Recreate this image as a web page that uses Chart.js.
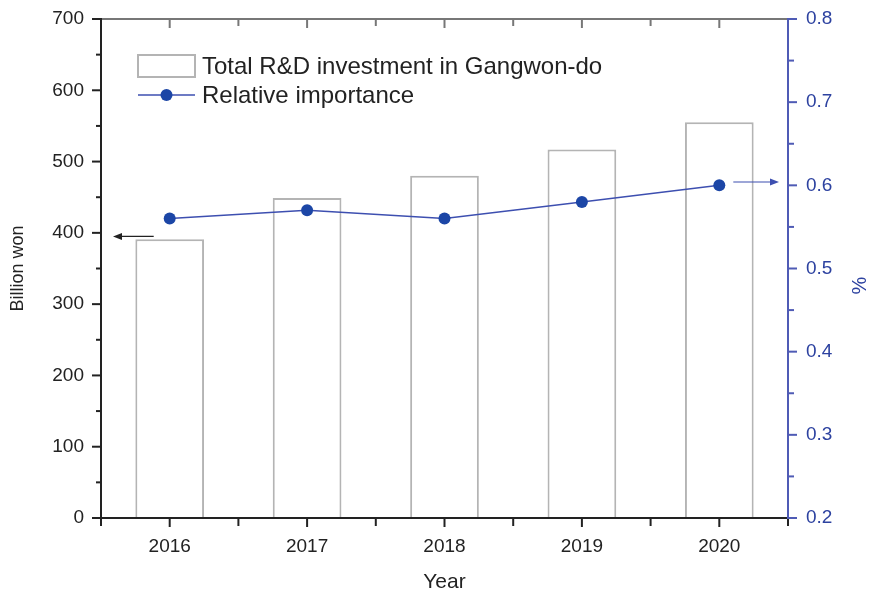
<!DOCTYPE html>
<html>
<head>
<meta charset="utf-8">
<script src="https://cdn.jsdelivr.net/npm/chart.js@4.4.0/dist/chart.umd.min.js"></script>
<style>
    html, body { margin: 0; padding: 0; background: #fff; }
    #wrap { width: 870px; height: 596px; }
</style>
</head>
<body>
<div id="wrap"><canvas id="chart"></canvas></div>
<script>
// Data
const years = ['2016', '2017', '2018', '2019', '2020'];
const investment = [391, 449, 480, 517, 555];        // billion won (left axis)
const importance = [0.56, 0.57, 0.56, 0.58, 0.60];   // % (right axis)
const leftTicks = [0, 100, 200, 300, 400, 500, 600, 700];
const rightTicks = [0.2, 0.3, 0.4, 0.5, 0.6, 0.7, 0.8];
const seriesNames = ['Total R&D investment in Gangwon-do', 'Relative importance'];

// Colours
const BLUE_AXIS = '#4f5bb5';
const BLUE_TEXT = '#2d42a0';
const BLUE_LINE = '#3d4fb0';
const BLUE_DOT = '#1c46a6';
const BAR_EDGE = '#b4b4b4';
const TEXT = '#222';
const FONT = 'Liberation Sans, Arial, sans-serif';

function line(ctx, x1, y1, x2, y2) {
    ctx.beginPath();
    ctx.moveTo(x1, y1);
    ctx.lineTo(x2, y2);
    ctx.stroke();
}

function arrow(ctx, x1, x2, y, color) {
    const dir = x2 > x1 ? 1 : -1;
    ctx.save();
    ctx.strokeStyle = color;
    ctx.fillStyle = color;
    ctx.lineWidth = 1.2;
    line(ctx, x1, y, x2 - dir * 6, y);
    ctx.beginPath();
    ctx.moveTo(x2, y);
    ctx.lineTo(x2 - dir * 9, y - 3.5);
    ctx.lineTo(x2 - dir * 9, y + 3.5);
    ctx.closePath();
    ctx.fill();
    ctx.restore();
}

// vertical axes: fixed width, no extra label padding at top/bottom
function fixWidth(w) {
    return function (s) {
        s.width = w;
        s.paddingTop = 0;
        s.paddingBottom = 0;
    };
}

// Axis frame, ticks, arrows and legend drawn like the original figure
const framePlugin = {
    id: 'frame',
    afterDatasetsDraw(chart) {
        const { ctx, chartArea: a, scales } = chart;
        const x = scales.x, y = scales.y, y1 = scales.y1;
        ctx.save();
        ctx.lineCap = 'butt';

        // top border (grey) with inward ticks
        ctx.strokeStyle = '#777';
        ctx.lineWidth = 2;
        line(ctx, a.left, a.top, a.right, a.top);
        for (let i = 0; i < years.length; i++) {
            const cx = x.getPixelForValue(i);
            line(ctx, cx, a.top, cx, a.top + 9);
            if (i > 0) {
                const bx = x.getPixelForValue(i - 0.5);
                line(ctx, bx, a.top, bx, a.top + 7);
            }
        }

        // bottom axis with outward ticks at centres and boundaries
        ctx.strokeStyle = TEXT;
        line(ctx, a.left - 1, a.bottom, a.right, a.bottom);
        for (let i = 0; i <= years.length; i++) {
            const bx = x.getPixelForValue(i - 0.5);
            line(ctx, bx, a.bottom, bx, a.bottom + 8);
            if (i < years.length) {
                const cx = x.getPixelForValue(i);
                line(ctx, cx, a.bottom, cx, a.bottom + 9);
            }
        }

        // left axis
        line(ctx, a.left, a.top - 1, a.left, a.bottom + 8);
        leftTicks.forEach((v, i) => {
            const py = y.getPixelForValue(v);
            line(ctx, a.left - 9, py, a.left, py);
            if (i < leftTicks.length - 1) {
                const my = y.getPixelForValue(v + 50);
                line(ctx, a.left - 5, my, a.left, my);
            }
        });

        // right axis (blue)
        ctx.strokeStyle = BLUE_AXIS;
        line(ctx, a.right, a.top - 1, a.right, a.bottom + 1);
        rightTicks.forEach((v, i) => {
            const py = y1.getPixelForValue(v);
            line(ctx, a.right, py, a.right + 9, py);
            if (i < rightTicks.length - 1) {
                const my = y1.getPixelForValue(v + 0.05);
                line(ctx, a.right, my, a.right + 6, my);
            }
        });
        ctx.restore();

        // arrows pointing each series to its axis
        arrow(ctx, x.getPixelForValue(0) - 16, a.left + 12, y.getPixelForValue(395), TEXT);
        arrow(ctx, x.getPixelForValue(years.length - 1) + 14, a.right - 9, y1.getPixelForValue(0.604), BLUE_LINE);
    },
    afterDraw(chart) {
        const { ctx, chartArea: a } = chart;
        const lx = a.left + 37;
        const row1 = a.top + 47;
        const row2 = a.top + 76;
        ctx.save();

        // bar swatch
        ctx.strokeStyle = BAR_EDGE;
        ctx.lineWidth = 2;
        ctx.strokeRect(lx, row1 - 11, 57, 22);

        // line + marker swatch
        ctx.strokeStyle = BLUE_LINE;
        ctx.lineWidth = 1.5;
        line(ctx, lx, row2, lx + 57, row2);
        ctx.fillStyle = BLUE_DOT;
        ctx.beginPath();
        ctx.arc(lx + 28.5, row2, 6, 0, Math.PI * 2);
        ctx.fill();

        ctx.fillStyle = TEXT;
        ctx.font = '24px ' + FONT;
        ctx.textBaseline = 'middle';
        ctx.textAlign = 'left';
        ctx.fillText(seriesNames[0], lx + 64, row1 + 1);
        ctx.fillText(seriesNames[1], lx + 64, row2 + 1);

        // right axis title, sits a little below the middle in the original
        ctx.fillStyle = BLUE_TEXT;
        ctx.font = '20px ' + FONT;
        ctx.textAlign = 'center';
        ctx.translate(a.right + 72, (a.top + a.bottom) / 2 + 17);
        ctx.rotate(-Math.PI / 2);
        ctx.fillText('%', 0, 0);
        ctx.restore();
    }
};

new Chart(document.getElementById('chart'), {
    data: {
        labels: years,
        datasets: [
            {
                type: 'line',
                label: seriesNames[1],
                data: importance,
                yAxisID: 'y1',
                order: 0,
                borderColor: BLUE_LINE,
                borderWidth: 1.5,
                pointRadius: 6,
                pointBackgroundColor: BLUE_DOT,
                pointBorderWidth: 0,
                tension: 0
            },
            {
                type: 'bar',
                label: seriesNames[0],
                data: investment,
                yAxisID: 'y',
                order: 1,
                backgroundColor: '#fff',
                borderColor: BAR_EDGE,
                borderWidth: 2,
                barPercentage: 0.5,
                categoryPercentage: 1.0
            }
        ]
    },
    options: {
        responsive: true,
        maintainAspectRatio: false,
        animation: false,
        layout: { autoPadding: false, padding: { top: 19, left: 0, right: 0, bottom: 0 } },
        plugins: {
            legend: { display: false },
            tooltip: { enabled: false }
        },
        scales: {
            x: {
                type: 'category',
                offset: true,
                grid: { display: false, drawTicks: false },
                border: { display: false },
                ticks: { color: TEXT, font: { family: FONT, size: 19 }, padding: 17, maxRotation: 0 },
                title: { display: true, text: 'Year', color: TEXT, font: { family: FONT, size: 21 }, padding: { top: 0, bottom: 1.5 } },
                afterFit(s) { s.height = 78; s.paddingLeft = 0; s.paddingRight = 0; }
            },
            y: {
                position: 'left',
                min: 0,
                max: 700,
                grid: { display: false, drawTicks: false },
                border: { display: false },
                ticks: { stepSize: 100, color: TEXT, font: { family: FONT, size: 19 }, padding: 17 },
                title: { display: true, text: 'Billion won', color: TEXT, font: { family: FONT, size: 18 }, padding: { top: 7, bottom: 0 } },
                afterFit: fixWidth(101)
            },
            y1: {
                position: 'right',
                min: 0.2,
                max: 0.8,
                grid: { display: false, drawTicks: false },
                border: { display: false },
                ticks: {
                    stepSize: 0.1,
                    color: BLUE_TEXT,
                    font: { family: FONT, size: 19 },
                    padding: 18,
                    callback: v => v.toFixed(1)
                },
                title: { display: false },
                afterFit: fixWidth(82)
            }
        }
    },
    plugins: [framePlugin]
});
</script>
</body>
</html>
